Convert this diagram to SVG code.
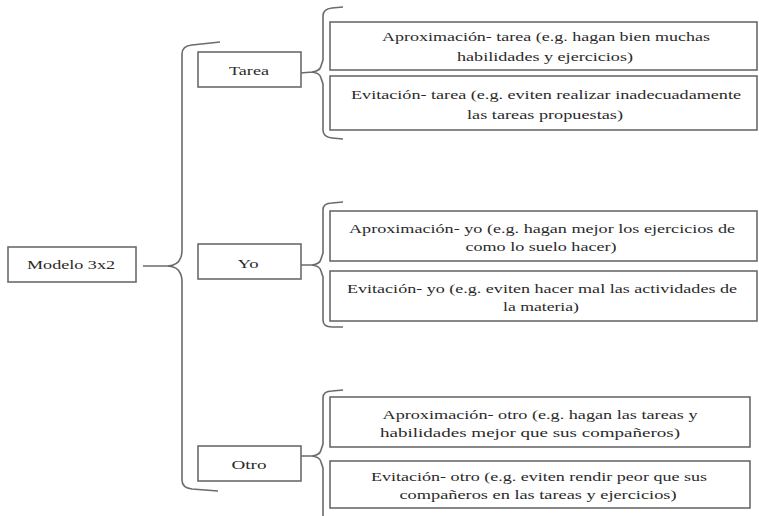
<svg xmlns="http://www.w3.org/2000/svg" width="759" height="516" viewBox="0 0 759 516">
<defs>
<style>
.box{fill:#ffffff;stroke:#6b6b6b;stroke-width:1.6}
.br{fill:none;stroke:#6b6b6b;stroke-width:1.6}
.t{font-size:13.5px;fill:#2a2a2a;text-anchor:middle}
</style>
</defs>
<rect width="759" height="516" fill="#ffffff"/>
<g id="connectors">
<path class="br" d="M143,266 L168,266 Q178,265 180,259 Q182,256 182,250 L182,54 Q182,46 192,45 L220,42"/>
<path class="br" d="M168,266 Q178,267 180,273 Q182,276 182,282 L182,480 Q182,488 192,489 L218,491"/>
<path class="br" d="M301,73 L312,72 Q320,71 321,66 L323,60 L323,16 Q323,9 332,8 L343,7 M312,72 Q320,73 321,78 L323,84 L323,130 Q323,137 332,138 L343,139"/>
<path class="br" d="M301,265 L312,265 Q320,264 321,259 L323,253 L323,210 Q323,203 332,203 L343,202 M312,265 Q320,266 321,271 L323,277 L323,320 Q323,327 332,327 L343,327"/>
<path class="br" d="M301,456 L312,456 Q320,455 321,450 L323,444 L323,398 Q323,391 332,391 L343,390 M312,456 Q320,457 321,462 L323,468 L323,516"/>
</g>
<g font-family="'Liberation Serif', 'DejaVu Serif', 'Times New Roman', serif">
<g id="modelo">
<rect class="box" x="8" y="247" width="128" height="35"/>
<text class="t" x="71" y="269" textLength="88" lengthAdjust="spacingAndGlyphs">Modelo 3x2</text>
</g>
<g id="tarea">
<rect class="box" x="198" y="52" width="103" height="35"/>
<text class="t" x="249" y="75" textLength="40" lengthAdjust="spacingAndGlyphs">Tarea</text>
</g>
<g id="yo">
<rect class="box" x="198" y="244" width="103" height="35"/>
<text class="t" x="248" y="268" textLength="21" lengthAdjust="spacingAndGlyphs">Yo</text>
</g>
<g id="otro">
<rect class="box" x="198" y="446" width="103" height="35"/>
<text class="t" x="249" y="469" textLength="35" lengthAdjust="spacingAndGlyphs">Otro</text>
</g>
<g id="aprox-tarea">
<rect class="box" x="330" y="22" width="427" height="48"/>
<text class="t" x="546" y="41" textLength="328" lengthAdjust="spacingAndGlyphs">Aproximación- tarea (e.g. hagan bien muchas</text>
<text class="t" x="545" y="61" textLength="176" lengthAdjust="spacingAndGlyphs">habilidades y ejercicios)</text>
</g>
<g id="evit-tarea">
<rect class="box" x="330" y="76" width="427" height="54"/>
<text class="t" x="546" y="99" textLength="390" lengthAdjust="spacingAndGlyphs">Evitación- tarea (e.g. eviten realizar inadecuadamente</text>
<text class="t" x="545" y="119" textLength="156" lengthAdjust="spacingAndGlyphs">las tareas propuestas)</text>
</g>
<g id="aprox-yo">
<rect class="box" x="330" y="211" width="427" height="50"/>
<text class="t" x="542" y="233" textLength="386" lengthAdjust="spacingAndGlyphs">Aproximación- yo (e.g. hagan mejor los ejercicios de</text>
<text class="t" x="541" y="251" textLength="151" lengthAdjust="spacingAndGlyphs">como lo suelo hacer)</text>
</g>
<g id="evit-yo">
<rect class="box" x="330" y="271" width="427" height="50"/>
<text class="t" x="542" y="293" textLength="390" lengthAdjust="spacingAndGlyphs">Evitación- yo (e.g. eviten hacer mal las actividades de</text>
<text class="t" x="541" y="311" textLength="76" lengthAdjust="spacingAndGlyphs">la materia)</text>
</g>
<g id="aprox-otro">
<rect class="box" x="330" y="397" width="420" height="50"/>
<text class="t" x="540" y="419" textLength="315" lengthAdjust="spacingAndGlyphs">Aproximación- otro (e.g. hagan las tareas y</text>
<text class="t" x="530" y="437" textLength="300" lengthAdjust="spacingAndGlyphs">habilidades mejor que sus compañeros)</text>
</g>
<g id="evit-otro">
<rect class="box" x="330" y="461" width="420" height="47"/>
<text class="t" x="539" y="481" textLength="336" lengthAdjust="spacingAndGlyphs">Evitación- otro (e.g. eviten rendir peor que sus</text>
<text class="t" x="538" y="499" textLength="277" lengthAdjust="spacingAndGlyphs">compañeros en las tareas y ejercicios)</text>
</g>
</g>
</svg>
